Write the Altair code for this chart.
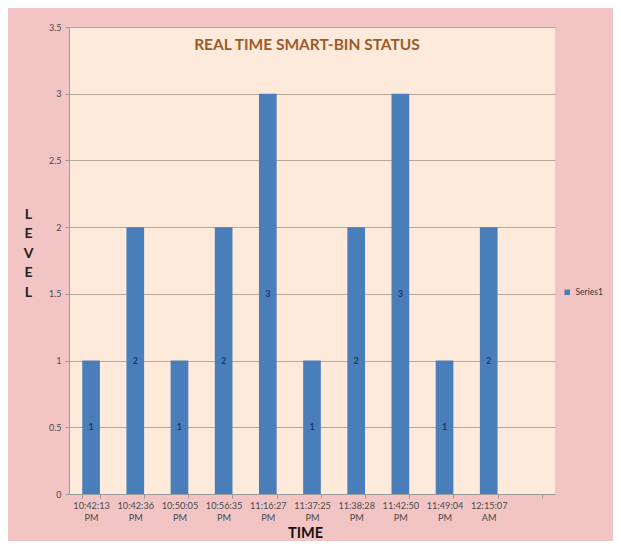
import altair as alt
import pandas as pd

times = ["10:42:13 PM", "10:42:36 PM", "10:50:05 PM", "10:56:35 PM", "11:16:27 PM",
         "11:37:25 PM", "11:38:28 PM", "11:42:50 PM", "11:49:04 PM", "12:15:07 AM"]
levels = [1, 2, 1, 2, 3, 1, 2, 3, 1, 2]
series_name = "Series1"
title_text = "REAL TIME SMART-BIN STATUS"
y_ticks = [0, 0.5, 1, 1.5, 2, 2.5, 3, 3.5]

domain = times + [" "]

df = pd.DataFrame({"time": times, "level": levels, "series": series_name})

W, H = 486, 467
PINK = "#F3C4C4"
PEACH = "#FDEADA"
BLUE = "#4A7EBB"
FONT = "Lato"

x_enc = alt.X("time:N", sort=domain,
              scale=alt.Scale(domain=domain, paddingInner=0.6, paddingOuter=0.3),
              axis=alt.Axis(title="TIME", labelAngle=0,
                            labelExpr="split(datum.label, ' ')",
                            labelFont=FONT, labelFontSize=9.2, labelColor="#4a4a4a",
                            labelLineHeight=12, labelPadding=3,
                            tickBand="extent", tickSize=4, tickColor="#9a9a9a",
                            domainColor="#9a9a9a", grid=False,
                            titleFont=FONT, titleFontSize=14.5, titleFontWeight="bold",
                            titleColor="#111111", titleY=43, titleBaseline="alphabetic",
                            titleX=W / 2 - 7))

bars = alt.Chart(df).mark_bar(color=BLUE).encode(
    x=x_enc,
    y=alt.Y("level:Q", scale=alt.Scale(domain=[0, 3.5], nice=False),
            axis=alt.Axis(values=y_ticks, format="~g",
                          title=["L", "E", "V", "E", "L"], titleAngle=0,
                          titleX=-41, titleY=180, titleAlign="center", titleBaseline="top",
                          titleLineHeight=19.5,
                          titleFont=FONT, titleFontSize=14, titleFontWeight="bold",
                          titleColor="#222222",
                          labelFont=FONT, labelFontSize=9, labelColor="#4a4a4a",
                          labelPadding=4, tickSize=4, tickColor="#9a9a9a",
                          domainColor="#9a9a9a",
                          gridColor="#B5A898", gridWidth=1.2)),
    color=alt.Color("series:N", scale=alt.Scale(range=[BLUE]),
                    legend=alt.Legend(title=None, orient="none", legendX=494, legendY=261,
                                      symbolType="square", symbolSize=30,
                                      labelFont=FONT, labelFontSize=8.5, labelColor="#333333")),
)

labels = alt.Chart(df).transform_calculate(mid="datum.level / 2").mark_text(
    font=FONT, fontSize=9, fontWeight="bold", color="#1F3864"
).encode(
    x=alt.X("time:N", sort=domain, scale=alt.Scale(domain=domain)),
    y=alt.Y("mid:Q"),
    text=alt.Text("level:Q"),
)

title = alt.Chart(pd.DataFrame({"t": [title_text]})).mark_text(
    font=FONT, fontSize=15.5, fontWeight="bold", color="#9C5B2C"
).encode(x=alt.value(238), y=alt.value(18), text="t:N")

chart = alt.layer(bars, labels, title).properties(
    width=W, height=H,
    background=PINK,
    padding={"left": 61, "top": 19, "right": 58, "bottom": 47},
    autosize=alt.AutoSizeParams(type="none"),
).configure_view(fill=PEACH, stroke=None)

chart.save("out.html", embed_options={"renderer": "svg", "actions": False})
